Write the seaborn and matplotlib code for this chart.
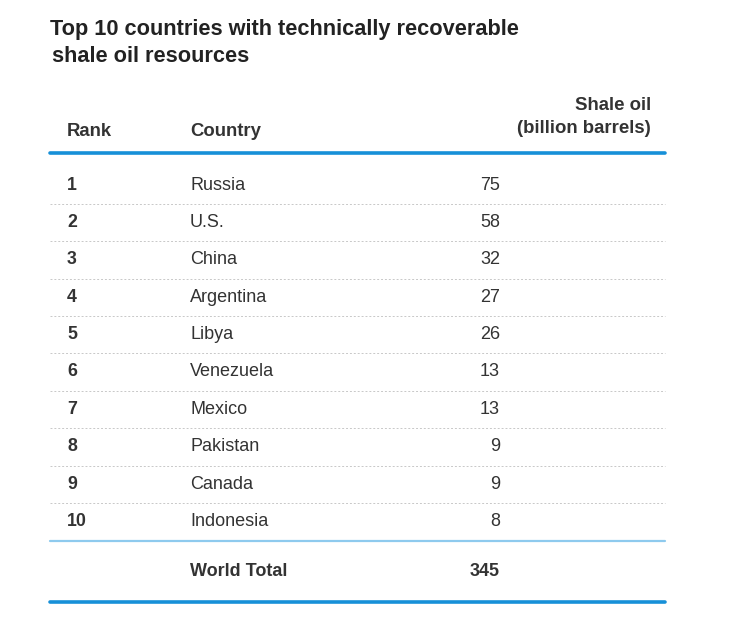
import matplotlib
matplotlib.use("Agg")
import matplotlib.pyplot as plt
import seaborn as sns

# table data
ranks = ["1", "2", "3", "4", "5", "6", "7", "8", "9", "10"]
countries = ["Russia", "U.S.", "China", "Argentina", "Libya",
             "Venezuela", "Mexico", "Pakistan", "Canada", "Indonesia"]
shale_oil = [75, 58, 32, 27, 26, 13, 13, 9, 9, 8]
world_total = 345

title_lines = ["Top 10 countries with technically recoverable", "shale oil resources"]
headers = ["Rank", "Country", "Shale oil\n(billion barrels)"]

sns.set_theme(style="white")
plt.rcParams["font.family"] = ["Liberation Sans", "DejaVu Sans"]

TXT = "#333333"
BLUE = "#1690d8"
LIGHT_BLUE = "#8ecaee"

fig = plt.figure(figsize=(7.36, 6.23), dpi=100)
ax = fig.add_axes([0, 0, 1, 1])
ax.set_xlim(0, 736)
ax.set_ylim(623, 0)
ax.axis("off")

# title
ax.text(50, 30, title_lines[0], fontsize=15.7, fontweight="bold", color="#222222", va="center")
ax.text(52, 57, title_lines[1], fontsize=15.7, fontweight="bold", color="#222222", va="center")

# header
x_rank, x_country, x_val, x_head = 67, 190, 500, 651
ax.text(x_rank, 131, headers[0], fontsize=13.3, fontweight="bold", color=TXT, va="center")
ax.text(x_country, 131, headers[1], fontsize=13.3, fontweight="bold", color=TXT, va="center")
ax.text(x_head, 117, headers[2], fontsize=13.4, fontweight="bold", color=TXT,
        va="center", ha="right", linespacing=1.5)

line_x0, line_x1 = 50 / 736, 665 / 736
ax.axhline(153, line_x0, line_x1, color=BLUE, lw=2.6)

# rows
y0, step = 185, 37.4
for i, (r, c, v) in enumerate(zip(ranks, countries, shale_oil)):
    y = y0 + i * step
    ax.text(x_rank, y, r, fontsize=12.8, fontweight="bold", color=TXT, va="center")
    ax.text(x_country, y, c, fontsize=13, color=TXT, va="center")
    ax.text(x_val, y, str(v), fontsize=13, color=TXT, va="center", ha="right")
    if i < len(ranks) - 1:
        ax.axhline(y + step / 2, line_x0, line_x1, color="#c8c8c8", lw=0.7,
                   ls=(0, (2, 2)))

ax.axhline(541, line_x0, line_x1, color=LIGHT_BLUE, lw=1.6)

ax.text(x_country, 572, "World Total", fontsize=13, fontweight="bold", color=TXT, va="center")
ax.text(x_val, 572, str(world_total), fontsize=13, fontweight="bold", color=TXT,
        va="center", ha="right")

ax.axhline(602, line_x0, line_x1, color=BLUE, lw=2.6)

fig.savefig("out.png", dpi=100, facecolor="white")
